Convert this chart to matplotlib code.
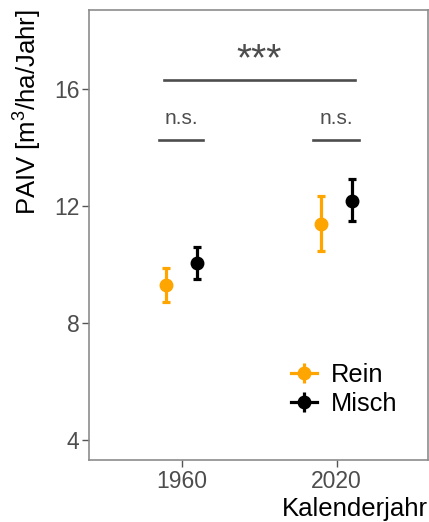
import numpy as np
import matplotlib
matplotlib.use("Agg")
import matplotlib.pyplot as plt
from matplotlib.lines import Line2D

plt.rcParams['font.family'] = ['Liberation Sans', 'DejaVu Sans']
plt.rcParams['mathtext.default'] = 'regular'

# data
jahre = [1960, 2020]
gruppen = ["Rein", "Misch"]
farben = ["#FFA500", "#000000"]
mittel = {"Rein": [9.30, 11.39], "Misch": [10.05, 12.19]}
unten = {"Rein": [8.71, 10.47], "Misch": [9.50, 11.50]}
oben = {"Rein": [9.90, 12.35], "Misch": [10.61, 12.94]}
dodge = {"Rein": -6, "Misch": 6}

yticks = [4, 8, 12, 16]

fig = plt.figure(figsize=(4.29, 5.22), dpi=100)
ax = fig.add_axes([0.2082, 0.1188, 0.7902, 0.863])

for g, c in zip(gruppen, farben):
    x = np.array(jahre) + dodge[g]
    y = np.array(mittel[g])
    err = [y - np.array(unten[g]), np.array(oben[g]) - y]
    ax.errorbar(x, y, yerr=err, fmt='o', color=c, ms=9, elinewidth=2.3,
                capsize=3, capthick=2.3, zorder=3)

# significance annotations
grau = "#4D4D4D"
ax.plot([1953, 2027], [16.32, 16.32], color=grau, lw=1.9)
ax.text(1990, 17.0, "***", ha='center', va='center', fontsize=28, color=grau)
ax.plot([1951.3, 1968.4], [14.27, 14.27], color=grau, lw=1.9)
ax.plot([2011, 2028.6], [14.27, 14.27], color=grau, lw=1.9)
ax.text(1960, 15.0, "n.s.", ha='center', va='center', fontsize=15, color=grau)
ax.text(2020, 15.0, "n.s.", ha='center', va='center', fontsize=15, color=grau)

ax.set_xlim(1924.2, 2055.5)
ax.set_ylim(3.32, 18.73)
ax.set_xticks(jahre)
ax.set_yticks(yticks)
ax.tick_params(labelsize=16.5, labelcolor="#4D4D4D", color="#555555",
               length=5, width=1, pad=2)
for s in ax.spines.values():
    s.set_color("#8C8C8C")
    s.set_linewidth(1.2)

ax.set_xlabel("Kalenderjahr", fontsize=18.5, loc='right', labelpad=3)
ax.set_ylabel("PAIV [m$^3$/ha/Jahr]", fontsize=18.5, loc='top', labelpad=7)

handles = []
for c in farben:
    h1 = Line2D([], [], color=c, lw=2.3, marker='o', ms=9)
    h2 = Line2D([], [], color=c, ls='none', marker='|', ms=14, mew=2.3)
    handles.append((h1, h2))
ax.legend(handles, gruppen, loc='center', bbox_to_anchor=(0.752, 0.157),
          frameon=False, fontsize=18.3, handlelength=1.02, handletextpad=0.55,
          labelspacing=0.2)

fig.savefig("out.png", dpi=100)
